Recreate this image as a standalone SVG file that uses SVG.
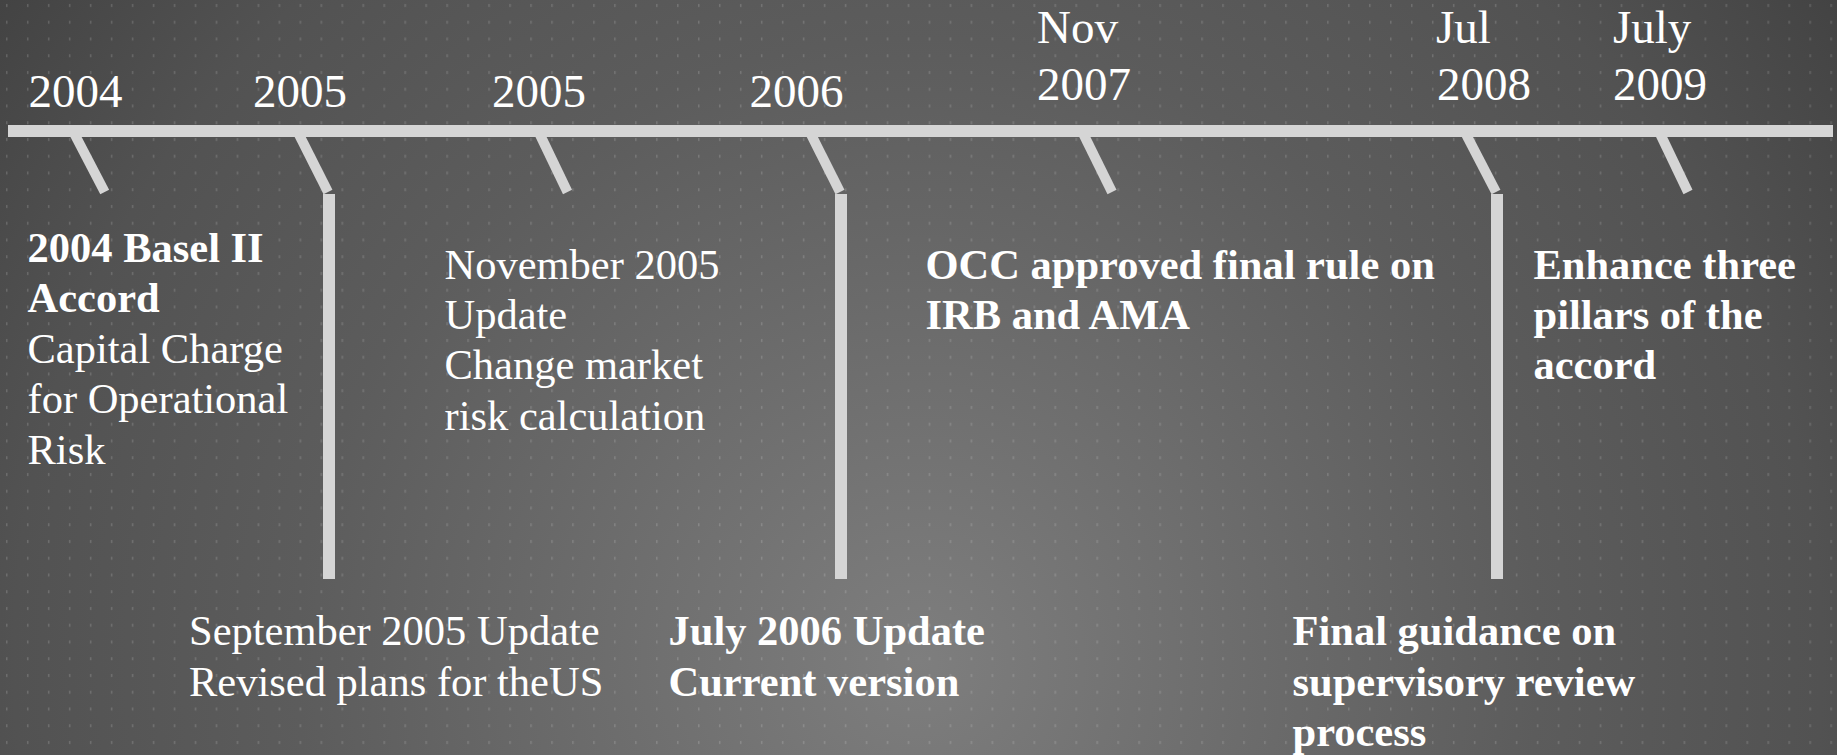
<svg xmlns="http://www.w3.org/2000/svg" width="1837" height="755" viewBox="0 0 1837 755">
<defs>
<radialGradient id="bg" gradientUnits="userSpaceOnUse" cx="918" cy="660" r="1130">
<stop offset="0" stop-color="#7e7e7e"/>
<stop offset="0.55" stop-color="#5c5c5c"/>
<stop offset="0.8" stop-color="#525252"/>
<stop offset="1" stop-color="#434343"/>
</radialGradient>
<pattern id="dots" patternUnits="userSpaceOnUse" width="20.97" height="16.75">
<rect x="6" y="4" width="1.5" height="3" fill="#ffffff" fill-opacity="0.16"/>
</pattern>
<style>
.tick{stroke:#d5d5d5;stroke-width:10;stroke-linecap:butt;fill:none}
.stem{fill:#d5d5d5}
text{font-family:"Liberation Serif","Times New Roman",serif;fill:#ffffff}
.yr{font-size:47px}
.b{font-size:42.5px}
.bold{font-weight:bold}
</style>
</defs>
<rect x="0" y="0" width="1837" height="755" fill="url(#bg)"/>
<rect x="0" y="0" width="1837" height="755" fill="url(#dots)"/>
<g id="connectors">
<line class="tick" x1="72.4" y1="130" x2="104.7" y2="192"/>
<line class="tick" x1="296.7" y1="130" x2="328" y2="192"/>
<rect class="stem" x="323" y="194" width="12" height="385"/>
<line class="tick" x1="537.7" y1="130" x2="567.5" y2="192"/>
<line class="tick" x1="808.8" y1="130" x2="840" y2="192"/>
<rect class="stem" x="835" y="194" width="12" height="385"/>
<line class="tick" x1="1081.4" y1="130" x2="1112" y2="192"/>
<line class="tick" x1="1463.8" y1="130" x2="1496" y2="192"/>
<rect class="stem" x="1491" y="194" width="12" height="385"/>
<line class="tick" x1="1658.3" y1="130" x2="1688" y2="192"/>
<rect id="axis" x="8" y="125" width="1825" height="12" fill="#d5d5d5"/>
</g>
<g id="y2004"><text class="yr" x="28.5" y="106.7">2004</text></g>
<g id="y2005a"><text class="yr" x="253" y="106.7">2005</text></g>
<g id="y2005b"><text class="yr" x="492" y="106.7">2005</text></g>
<g id="y2006"><text class="yr" x="749.5" y="106.7">2006</text></g>
<g id="y2007"><text class="yr" x="1037" y="42.7">Nov</text><text class="yr" x="1037" y="100">2007</text></g>
<g id="y2008"><text class="yr" x="1436" y="42.7">Jul</text><text class="yr" x="1437" y="100">2008</text></g>
<g id="y2009"><text class="yr" x="1613" y="42.7">July</text><text class="yr" x="1613" y="100">2009</text></g>
<g id="e2004">
<text class="b bold" x="27.5" y="262">2004 Basel II</text>
<text class="b bold" x="27.5" y="312.4">Accord</text>
<text class="b" x="27.5" y="362.8">Capital Charge</text>
<text class="b" x="27.5" y="413.2">for Operational</text>
<text class="b" x="27.5" y="463.6">Risk</text>
</g>
<g id="eNov2005">
<text class="b" x="444.5" y="278.5">November 2005</text>
<text class="b" x="444.5" y="328.9">Update</text>
<text class="b" x="444.5" y="379.3">Change market</text>
<text class="b" x="444.5" y="429.7">risk calculation</text>
</g>
<g id="eSep2005">
<text class="b" x="189" y="645">September 2005 Update</text>
<text class="b" x="189" y="695.5">Revised plans for theUS</text>
</g>
<g id="eJul2006">
<text class="b bold" x="668.5" y="645">July 2006 Update</text>
<text class="b bold" x="668.5" y="695.5">Current version</text>
</g>
<g id="eNov2007">
<text class="b bold" x="925.5" y="278.5">OCC approved final rule on</text>
<text class="b bold" x="925.5" y="328.9">IRB and AMA</text>
</g>
<g id="eJul2008">
<text class="b bold" x="1292.5" y="645">Final guidance on</text>
<text class="b bold" x="1292.5" y="695.5">supervisory review</text>
<text class="b bold" x="1292.5" y="745.5">process</text>
</g>
<g id="eJul2009">
<text class="b bold" x="1533.5" y="278.5">Enhance three</text>
<text class="b bold" x="1533.5" y="328.9">pillars of the</text>
<text class="b bold" x="1533.5" y="379.3">accord</text>
</g>
</svg>
